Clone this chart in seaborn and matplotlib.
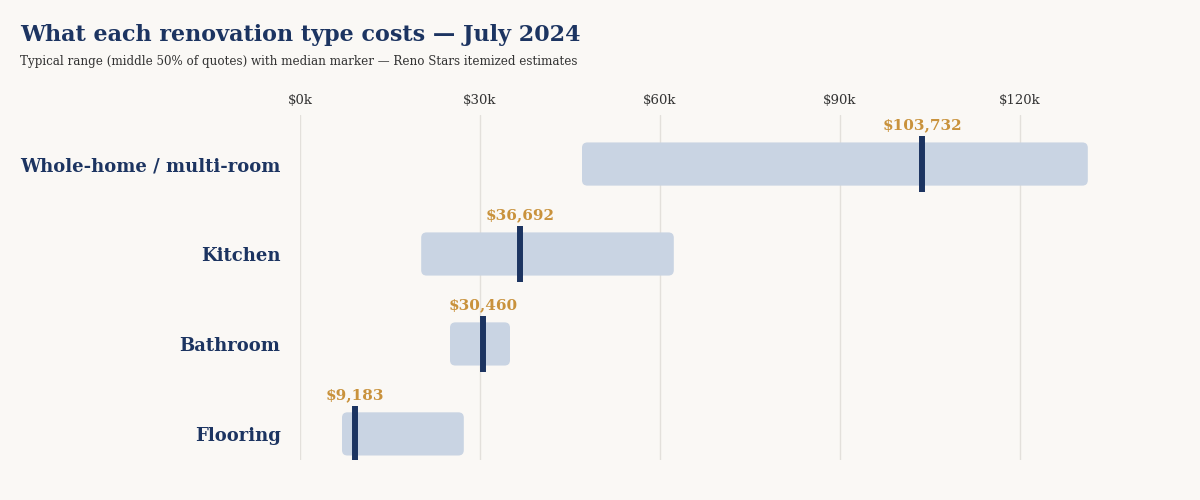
import matplotlib
matplotlib.use("Agg")
import matplotlib.pyplot as plt
from matplotlib.patches import FancyBboxPatch
import seaborn as sns
import pandas as pd

categories = ["Whole-home / multi-room", "Kitchen", "Bathroom", "Flooring"]
q1 = [47000, 20200, 25000, 7000]
q3 = [131300, 62300, 35000, 27300]
medians = [103732, 36692, 30460, 9183]
tick_values = [0, 30000, 60000, 90000, 120000]
tick_labels = ["$0k", "$30k", "$60k", "$90k", "$120k"]

BG = "#faf8f5"
BAR = "#c9d4e3"
NAVY = "#1c3461"
GOLD = "#c9923c"
GRID = "#e3e0db"
SERIF = "DejaVu Serif"

sns.set_theme(style="white")
plt.rcParams["font.family"] = [SERIF]

df = pd.DataFrame({"cat": categories, "q1": q1, "q3": q3, "med": medians})
df["span"] = df["q3"] - df["q1"]

fig = plt.figure(figsize=(12, 5), dpi=100, facecolor=BG)
ax = fig.add_axes([0.25, 0.08, 0.675, 0.69], facecolor=BG)

sns.barplot(data=df, x="span", y="cat", order=categories, color=BAR,
            width=0.48, ax=ax, orient="y")

ax.set_xlim(0, 135000)
ax.set_ylim(3.29, -0.545)

# replace bars with rounded, shifted bars
x_units_per_px = 135000 / (0.675 * 1200)
y_units_per_px = 3.835 / (0.69 * 500)
mut_aspect = y_units_per_px / x_units_per_px
for patch, left in zip(list(ax.patches), df["q1"]):
    y, w, h = patch.get_y(), patch.get_width(), patch.get_height()
    patch.remove()
    fb = FancyBboxPatch((left, y), w, h,
                        boxstyle="round,pad=0,rounding_size=900",
                        mutation_aspect=mut_aspect,
                        facecolor=BAR, edgecolor="none", zorder=2)
    ax.add_patch(fb)

ax.vlines(df["med"], [i - 0.31 for i in range(len(df))],
          [i + 0.31 for i in range(len(df))], colors=NAVY, lw=4.3,
          zorder=4, capstyle="butt")

for i, m in enumerate(df["med"]):
    ax.text(m, i - 0.35, f"${m:,.0f}", ha="center", va="bottom",
            color=GOLD, fontsize=11, fontweight="bold", zorder=5)

ax.set_xticks(tick_values)
ax.set_xticklabels(tick_labels)
ax.xaxis.tick_top()
ax.tick_params(axis="x", length=0, pad=6, labelsize=9.5, labelcolor="#333333")
ax.tick_params(axis="y", length=0, pad=14, labelsize=13, labelcolor=NAVY)
for lab in ax.get_yticklabels():
    lab.set_fontweight("bold")
ax.grid(axis="x", color=GRID, lw=1, zorder=0)
ax.set_axisbelow(True)
for s in ax.spines.values():
    s.set_visible(False)
ax.set_xlabel("")
ax.set_ylabel("")

fig.text(20 / 1200, 1 - 35 / 500, "What each renovation type costs \u2014 July 2024",
         fontsize=16, fontweight="bold", color=NAVY, va="center", ha="left")
fig.text(20 / 1200, 1 - 61 / 500,
         "Typical range (middle 50% of quotes) with median marker \u2014 Reno Stars itemized estimates",
         fontsize=8.6, color="#333333", va="center", ha="left")

fig.savefig("out.png", dpi=100, facecolor=BG)
